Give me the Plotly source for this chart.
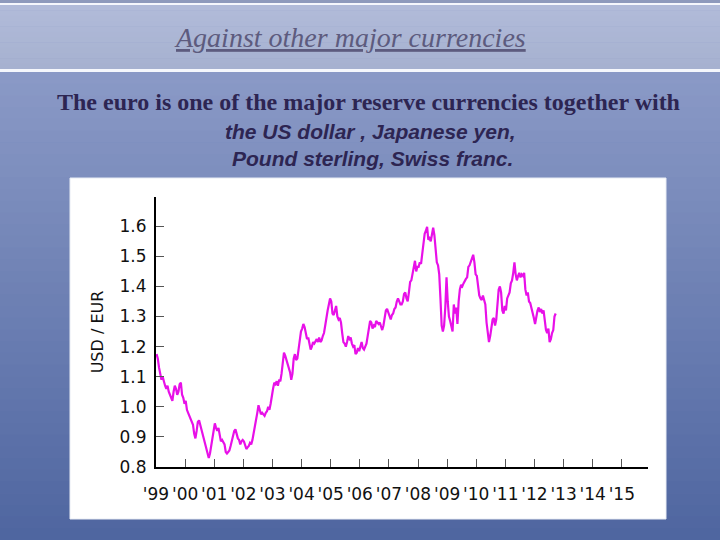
import plotly.graph_objects as go

# ---------------- data ----------------
years = list(range(1999, 2013))
usd_per_eur = {
    1999: [1.175, 1.16, 1.13, 1.11, 1.09, 1.10, 1.08, 1.07, 1.06, 1.07, 1.05, 1.04,
           1.03, 1.02, 1.05, 1.07, 1.06, 1.04, 1.05, 1.075, 1.08, 1.04, 1.03, 1.01],
    2000: [1.02, 0.99, 0.98, 0.97, 0.96, 0.95, 0.94, 0.91, 0.895, 0.92, 0.95, 0.955,
           0.94, 0.92, 0.905, 0.89, 0.875, 0.86, 0.85, 0.83, 0.845, 0.87, 0.89, 0.93],
    2001: [0.945, 0.93, 0.92, 0.93, 0.91, 0.885, 0.89, 0.88, 0.875, 0.85, 0.845, 0.85,
           0.855, 0.87, 0.89, 0.91, 0.92, 0.925, 0.91, 0.895, 0.89, 0.875, 0.885, 0.89],
    2002: [0.885, 0.87, 0.86, 0.865, 0.87, 0.88, 0.875, 0.89, 0.91, 0.93, 0.95, 0.98,
           1.005, 0.99, 0.975, 0.98, 0.975, 0.97, 0.98, 0.985, 1.0, 0.99, 1.01, 1.045],
    2003: [1.06, 1.08, 1.075, 1.085, 1.07, 1.09, 1.085, 1.11, 1.15, 1.18, 1.17, 1.155,
           1.14, 1.13, 1.115, 1.09, 1.11, 1.16, 1.175, 1.155, 1.16, 1.19, 1.22, 1.25],
    2004: [1.26, 1.275, 1.265, 1.24, 1.225, 1.23, 1.205, 1.19, 1.2, 1.215, 1.21, 1.22,
           1.225, 1.215, 1.23, 1.215, 1.22, 1.235, 1.245, 1.27, 1.3, 1.32, 1.34, 1.36],
    2005: [1.35, 1.31, 1.305, 1.32, 1.335, 1.3, 1.29, 1.295, 1.28, 1.245, 1.215, 1.21,
           1.2, 1.215, 1.235, 1.225, 1.23, 1.21, 1.2, 1.205, 1.175, 1.18, 1.195, 1.185],
    2006: [1.205, 1.215, 1.195, 1.19, 1.2, 1.21, 1.235, 1.265, 1.285, 1.28, 1.26, 1.27,
           1.265, 1.285, 1.28, 1.275, 1.28, 1.265, 1.255, 1.27, 1.29, 1.32, 1.325, 1.315],
    2007: [1.30, 1.29, 1.305, 1.31, 1.325, 1.33, 1.35, 1.36, 1.35, 1.34, 1.34, 1.35,
           1.375, 1.38, 1.36, 1.35, 1.38, 1.415, 1.42, 1.44, 1.47, 1.485, 1.45, 1.465],
    2008: [1.465, 1.48, 1.475, 1.51, 1.55, 1.575, 1.585, 1.598, 1.555, 1.56, 1.55, 1.58,
           1.595, 1.57, 1.53, 1.48, 1.47, 1.44, 1.36, 1.27, 1.25, 1.27, 1.33, 1.43],
    2009: [1.35, 1.30, 1.285, 1.27, 1.25, 1.34, 1.31, 1.33, 1.275, 1.35, 1.39, 1.405,
           1.40, 1.41, 1.42, 1.425, 1.43, 1.465, 1.47, 1.48, 1.49, 1.505, 1.48, 1.44],
    2010: [1.435, 1.40, 1.37, 1.36, 1.355, 1.37, 1.35, 1.34, 1.28, 1.25, 1.215, 1.235,
           1.27, 1.29, 1.295, 1.27, 1.29, 1.345, 1.39, 1.40, 1.38, 1.32, 1.31, 1.335],
    2011: [1.32, 1.36, 1.37, 1.38, 1.41, 1.42, 1.445, 1.48, 1.44, 1.42, 1.435, 1.445,
           1.43, 1.44, 1.435, 1.445, 1.39, 1.37, 1.38, 1.35, 1.345, 1.33, 1.31, 1.295],
    2012: [1.275, 1.30, 1.32, 1.33, 1.315, 1.325, 1.31, 1.32, 1.275, 1.255, 1.245, 1.26,
           1.215, 1.225, 1.245, 1.255, 1.30, 1.31],
}
tick_years = list(range(1999, 2016))
tick_labels = ["'" + str(y)[2:] for y in tick_years]
y_ticks = [0.8, 0.9, 1.0, 1.1, 1.2, 1.3, 1.4, 1.5, 1.6]

x_vals, y_vals = [], []
for yr in years:
    vals = usd_per_eur[yr]
    for i, v in enumerate(vals):
        x_vals.append(yr + (i + 0.5) / 24.0)
        y_vals.append(v)

# ---------------- layout geometry (pixels) ----------------
W, H = 720, 540
L, R, T, B = 156, 72, 197, 73
PW, PH = W - L - R, H - T - B


def px(x):
    return (x - L) / PW


def py(y):
    return (H - B - y) / PH


def hexmix(c1, c2, f):
    a = [int(c1[i:i + 2], 16) for i in (1, 3, 5)]
    b = [int(c2[i:i + 2], 16) for i in (1, 3, 5)]
    return "#%02x%02x%02x" % tuple(round(a[k] + (b[k] - a[k]) * f) for k in range(3))


shapes = []
# top thin dark strip
shapes.append(dict(type="rect", xref="paper", yref="paper", layer="below",
                   x0=px(0), x1=px(W), y0=py(0), y1=py(3),
                   fillcolor="#8e9abc", line=dict(width=0)))
# banner gradient
nb = 12
for k in range(nb):
    y0 = 5 + (69 - 5) * k / nb
    y1 = 5 + (69 - 5) * (k + 1) / nb
    shapes.append(dict(type="rect", xref="paper", yref="paper", layer="below",
                       x0=px(0), x1=px(W), y0=py(y0), y1=py(y1 + 0.5),
                       fillcolor=hexmix("#b1bbd9", "#a6b1d0", k / (nb - 1)),
                       line=dict(width=0)))
# white lines
for (a, b) in [(3, 5), (69, 72)]:
    shapes.append(dict(type="rect", xref="paper", yref="paper", layer="below",
                       x0=px(0), x1=px(W), y0=py(a), y1=py(b),
                       fillcolor="#f5f7fc", line=dict(width=0)))
# main gradient
nm = 40
for k in range(nm):
    y0 = 72 + (H - 72) * k / nm
    y1 = 72 + (H - 72) * (k + 1) / nm
    shapes.append(dict(type="rect", xref="paper", yref="paper", layer="below",
                       x0=px(0), x1=px(W), y0=py(y0), y1=py(y1 + 0.6),
                       fillcolor=hexmix("#8a99c6", "#4f66a0", k / (nm - 1)),
                       line=dict(width=0)))
# white picture box
shapes.append(dict(type="rect", xref="paper", yref="paper", layer="below",
                   x0=px(70), x1=px(666), y0=py(178), y1=py(519),
                   fillcolor="#ffffff", line=dict(color="#e8ecf4", width=1)))

annotations = [
    dict(text="<i><u>Against other major currencies</u></i>", x=px(350), y=py(37),
         xref="paper", yref="paper", showarrow=False, xanchor="center", yanchor="middle",
         font=dict(family="Liberation Serif", size=28, color="#5d5b7e")),
    dict(text="<b>The euro is one of the major reserve currencies together with</b>",
         x=px(368), y=py(102), xref="paper", yref="paper", showarrow=False,
         xanchor="center", yanchor="middle",
         font=dict(family="Liberation Serif", size=24, color="#2d2552")),
    dict(text="<b><i>the US dollar , Japanese yen,</i></b>", x=px(370), y=py(131),
         xref="paper", yref="paper", showarrow=False, xanchor="center", yanchor="middle",
         font=dict(family="Liberation Sans", size=21, color="#2d2552")),
    dict(text="<b><i>Pound sterling, Swiss franc.</i></b>", x=px(372), y=py(159),
         xref="paper", yref="paper", showarrow=False, xanchor="center", yanchor="middle",
         font=dict(family="Liberation Sans", size=21, color="#2d2552")),
]

fig = go.Figure()
fig.add_trace(go.Scatter(x=x_vals, y=y_vals, mode="lines",
                         line=dict(color="#e810e8", width=2.2), showlegend=False,
                         hoverinfo="skip"))

fig.update_layout(
    width=W, height=H,
    margin=dict(l=L, r=R, t=T, b=B, pad=0),
    paper_bgcolor="#6f84b6",
    plot_bgcolor="#ffffff",
    shapes=shapes,
    annotations=annotations,
    font=dict(family="DejaVu Sans", size=17, color="#111111"),
    xaxis=dict(range=[1999, 2015.9], tickmode="array", tickvals=tick_years,
               ticktext=tick_labels, ticks="inside", ticklen=8, tickwidth=1,
               tickcolor="#555555", showline=True, linecolor="#000000", linewidth=2,
               showgrid=False, zeroline=False, ticklabelstandoff=11,
               tickfont=dict(family="DejaVu Sans", size=17, color="#111111")),
    yaxis=dict(range=[0.8, 1.697], tickmode="array", tickvals=y_ticks,
               ticktext=["%.1f" % v for v in y_ticks], ticks="inside", ticklen=8,
               tickwidth=1, tickcolor="#555555", showline=True, linecolor="#000000",
               linewidth=2, showgrid=False, zeroline=False, ticklabelstandoff=4,
               title=dict(text="USD / EUR", standoff=12,
                          font=dict(family="DejaVu Sans", size=16, color="#111111")),
               tickfont=dict(family="DejaVu Sans", size=17, color="#111111")),
)

fig.write_html("out.html", config={"displayModeBar": False},
               post_script="document.body.style.margin='0';")
